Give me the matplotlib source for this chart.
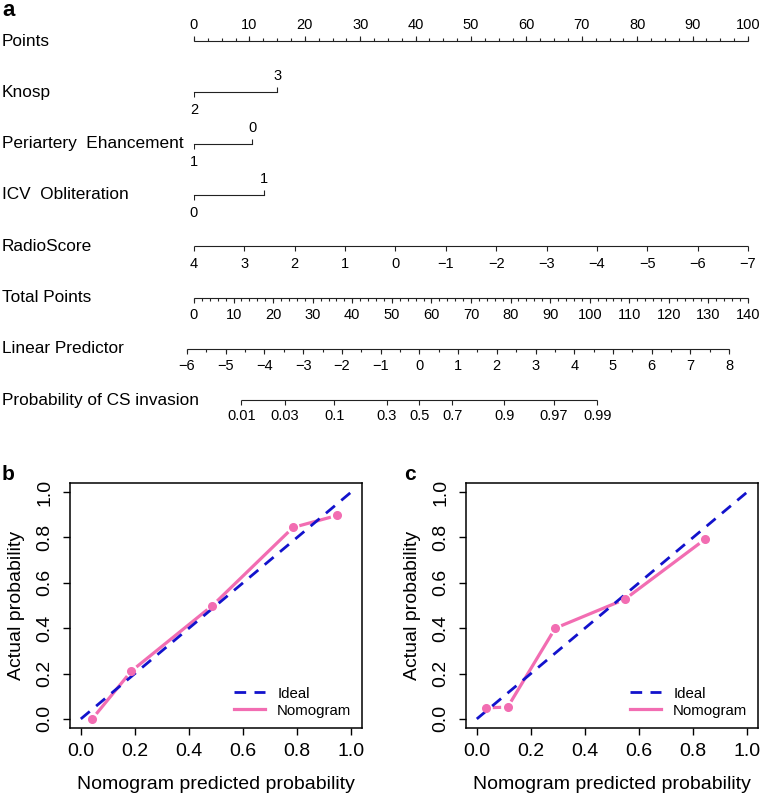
import numpy as np
import matplotlib
matplotlib.use("Agg")
import matplotlib.pyplot as plt
from matplotlib.lines import Line2D
from matplotlib.transforms import blended_transform_factory

plt.rcParams['font.family'] = ['Liberation Sans', 'DejaVu Sans']

# ---------------- data ----------------
row_names = ["Points", "Knosp", "Periartery  Ehancement", "ICV  Obliteration",
             "RadioScore", "Total Points", "Linear Predictor",
             "Probability of CS invasion"]

points_major = np.arange(0, 101, 10)
points_minor = np.arange(0, 100.01, 2.5)

knosp_levels = ["2", "3"]
knosp_pts = [0.0, 15.0]
peri_levels = ["1", "0"]
peri_pts = [0.0, 10.5]
icv_levels = ["0", "1"]
icv_pts = [0.0, 12.7]

radio_ticks = list(range(4, -8, -1))
radio_lo, radio_hi = 4, -7          # value at 0 points, value at 100 points

total_major = np.arange(0, 141, 10)
total_minor = np.arange(0, 141, 2)
total_max = 140

lp_major = np.arange(-6, 9)
lp_minor = np.arange(-6, 8.01, 0.5)
lp_at_zero = -5.82                   # linear predictor at 0 total points
lp_per_point = 0.1022                # linear predictor per total point

prob_ticks = [0.01, 0.03, 0.1, 0.3, 0.5, 0.7, 0.9, 0.97, 0.99]
prob_labels = ["0.01", "0.03", "0.1", "0.3", "0.5", "0.7", "0.9", "0.97", "0.99"]

ideal_line = [0.0, 1.0]
b_pred = [0.042, 0.187, 0.487, 0.785, 0.948]
b_obs = [0.0, 0.211, 0.500, 0.844, 0.897]
c_pred = [0.035, 0.114, 0.290, 0.547, 0.843]
c_obs = [0.049, 0.052, 0.400, 0.527, 0.791]
calib_ticks = [0.0, 0.2, 0.4, 0.6, 0.8, 1.0]

PINK = "#f26db2"
BLUE = "#1212cc"
LINEC = "#222222"

# ---------------- figure ----------------
W, H = 761, 793
fig = plt.figure(figsize=(W / 100, H / 100), dpi=100)

row_px = 51.3
top_line_px = 41
ax = fig.add_axes([194 / W, 1 - (top_line_px + 7.5 * row_px) / H,
                   554 / W, 8 * row_px / H])
ax.set_xlim(0, 100)
ax.set_ylim(7.5, -0.5)
ax.axis('off')


def px(n):
    return n / row_px


def tot2pts(t):
    return np.asarray(t, dtype=float) * 100.0 / total_max


def lp2pts(v):
    return tot2pts((np.asarray(v, dtype=float) - lp_at_zero) / lp_per_point)


def radio2pts(r):
    return (radio_lo - np.asarray(r, dtype=float)) * 100.0 / (radio_lo - radio_hi)


TICKFS = 10.5
LW = 0.8


def scale_row(row, major_pos, labels, minor_pos=None, up=False, off=17.5):
    lo = min(np.min(major_pos), np.min(minor_pos) if minor_pos is not None else np.inf)
    hi = max(np.max(major_pos), np.max(minor_pos) if minor_pos is not None else -np.inf)
    ax.plot([lo, hi], [row, row], color=LINEC, lw=LW, clip_on=False,
            solid_capstyle='butt')
    s = -1 if up else 1
    ax.vlines(major_pos, row, row + s * px(5), color=LINEC, lw=LW, clip_on=False)
    if minor_pos is not None:
        ax.vlines(minor_pos, row, row + s * px(3), color=LINEC, lw=LW, clip_on=False)
    for p, l in zip(major_pos, labels):
        ax.text(p, row + s * px(off), l, ha='center', va='center',
                fontsize=TICKFS, clip_on=False)


def cat_row(row, pts, levels):
    ax.plot([pts[0], pts[1]], [row, row], color=LINEC, lw=LW, clip_on=False)
    # first level below, second above
    ax.vlines([pts[0]], row, row + px(5), color=LINEC, lw=LW)
    ax.vlines([pts[1]], row, row - px(5), color=LINEC, lw=LW)
    ax.text(pts[0], row + px(18), levels[0], ha='center', va='center', fontsize=TICKFS)
    ax.text(pts[1], row - px(16), levels[1], ha='center', va='center', fontsize=TICKFS)


scale_row(0, points_major, [str(v) for v in points_major], points_minor, up=True, off=16)
cat_row(1, knosp_pts, knosp_levels)
cat_row(2, peri_pts, peri_levels)
cat_row(3, icv_pts, icv_levels)
scale_row(4, radio2pts(radio_ticks),
          [str(v).replace('-', '\u2212') for v in radio_ticks])
scale_row(5, tot2pts(total_major), [str(v) for v in total_major], tot2pts(total_minor))
scale_row(6, lp2pts(lp_major), [str(v).replace('-', '\u2212') for v in lp_major],
          lp2pts(lp_minor))
logit = np.log(np.array(prob_ticks) / (1 - np.array(prob_ticks)))
scale_row(7, lp2pts(logit), prob_labels, off=16)

tr = blended_transform_factory(fig.transFigure, ax.transData)
for i, name in enumerate(row_names):
    ax.text(2 / W, i, name, transform=tr, ha='left', va='center', fontsize=12.4)

fig.text(2 / W, 1 - 16 / H, 'a', fontsize=16, fontweight='bold', va='baseline')


# ---------------- calibration panels ----------------
def calib(left_px, pred, obs, letter, letter_px):
    top, bot = 483, 728
    right = left_px + 292
    axc = fig.add_axes([left_px / W, 1 - bot / H, (right - left_px) / W, (bot - top) / H])
    axc.set_xlim(-0.04, 1.04)
    axc.set_ylim(-0.04, 1.04)
    axc.plot(ideal_line, ideal_line, color=BLUE, lw=2.0, dashes=(4.2, 3.0), zorder=3)
    # nomogram line with gaps around the points (R type="b")
    T = axc.transData
    P = T.transform(np.column_stack([pred, obs]))
    gap = 6.5
    for p1, p2 in zip(P[:-1], P[1:]):
        d = p2 - p1
        L = np.hypot(*d)
        if L > 2 * gap:
            u = d / L
            q = T.inverted().transform(np.array([p1 + u * gap, p2 - u * gap]))
            axc.plot(q[:, 0], q[:, 1], color=PINK, lw=2.3, solid_capstyle='butt', zorder=2)
    axc.plot(pred, obs, 'o', color=PINK, ms=5.5, mec=PINK, zorder=4)
    axc.set_xticks(calib_ticks)
    axc.set_yticks(calib_ticks)
    axc.set_xticklabels(["%.1f" % v for v in calib_ticks])
    axc.set_yticklabels(["%.1f" % v for v in calib_ticks])
    axc.tick_params(direction='out', length=5, width=1.0, labelsize=14, pad=6)
    axc.tick_params(axis='y', pad=7)
    for lbl in axc.get_yticklabels():
        lbl.set_rotation(90)
        lbl.set_va('center')
    for s in axc.spines.values():
        s.set_linewidth(1.1)
    axc.set_xlabel("Nomogram predicted probability", fontsize=14)
    axc.set_ylabel("Actual probability", fontsize=14)
    axc.xaxis.set_label_coords(0.5, -0.195)
    axc.yaxis.set_label_coords(-0.155, 0.5)
    handles = [Line2D([], [], color=BLUE, lw=2.0, dashes=(4.2, 3.0)),
               Line2D([], [], color=PINK, lw=2.3)]
    axc.legend(handles, ["Ideal", "Nomogram"], loc='lower right', frameon=False,
               fontsize=10.8, handlelength=2.1, handletextpad=0.8,
               labelspacing=0.2, borderaxespad=0.3)
    fig.text(letter_px / W, 1 - 480 / H, letter, fontsize=15, fontweight='bold',
             va='baseline')
    return axc


calib(70, b_pred, b_obs, 'b', 2)
calib(466, c_pred, c_obs, 'c', 404)

fig.savefig("out.png", dpi=100)
